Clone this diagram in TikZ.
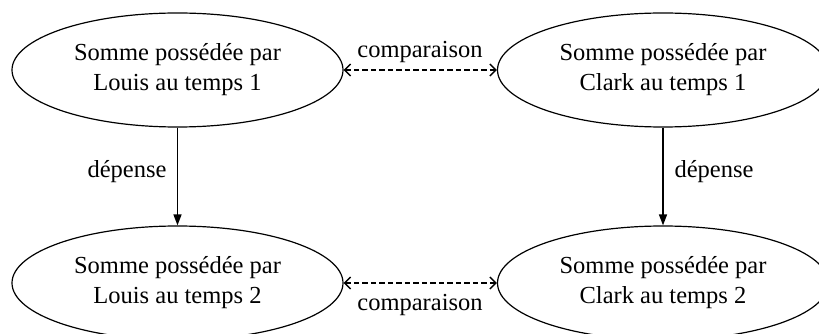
\documentclass[tikz,border=0pt]{standalone}
\usepackage{fontspec}
\setmainfont{Liberation Serif}
\usetikzlibrary{shapes.geometric,arrows.meta}
\tikzset{
  state/.style={draw, ellipse, line width=1.2pt, minimum width=331pt, minimum height=114pt,
    inner sep=0pt, align=center, font=\fontsize{24.5}{30}\selectfont},
  cmp/.style={dash pattern=on 5.5pt off 3pt, line width=1.4pt,
    {Straight Barb[length=6pt,width=12pt,line width=1.4pt]}-{Straight Barb[length=6pt,width=12pt,line width=1.4pt]}},
  spend/.style={line width=1.5pt, -{Stealth[length=11pt,width=8pt,inset=0pt]}},
  lbl/.style={font=\fontsize{24.5}{30}\selectfont, anchor=base, inner sep=0pt}
}
\begin{document}
\begin{tikzpicture}[x=1pt, y=-1pt]
  \useasboundingbox (0,0) rectangle (819,334);
  \fill[white] (0,0) rectangle (819,334);

  % four money states
  \node[state] (l1) at (177.5,70) {Somme possédée par\\Louis au temps 1};
  \node[state] (c1) at (663,70) {Somme possédée par\\Clark au temps 1};
  \node[state] (l2) at (177.5,283) {Somme possédée par\\Louis au temps 2};
  \node[state] (c2) at (663,283) {Somme possédée par\\Clark au temps 2};

  % comparisons between Louis and Clark
  \draw[cmp] (l1.east) -- (c1.west);
  \draw[cmp] (l2.east) -- (c2.west);
  \node[lbl] (cmpa) at (420,58) {comparaison};
  \node[lbl] (cmpb) at (420,310) {comparaison};

  % spending from time 1 to time 2
  \draw[spend] (l1.south) -- (l2.north);
  \draw[spend] (c1.south) -- (c2.north);
  \node[lbl] (dl) at (127,177) {dépense};
  \node[lbl] (dc) at (714,177) {dépense};
\end{tikzpicture}
\end{document}
